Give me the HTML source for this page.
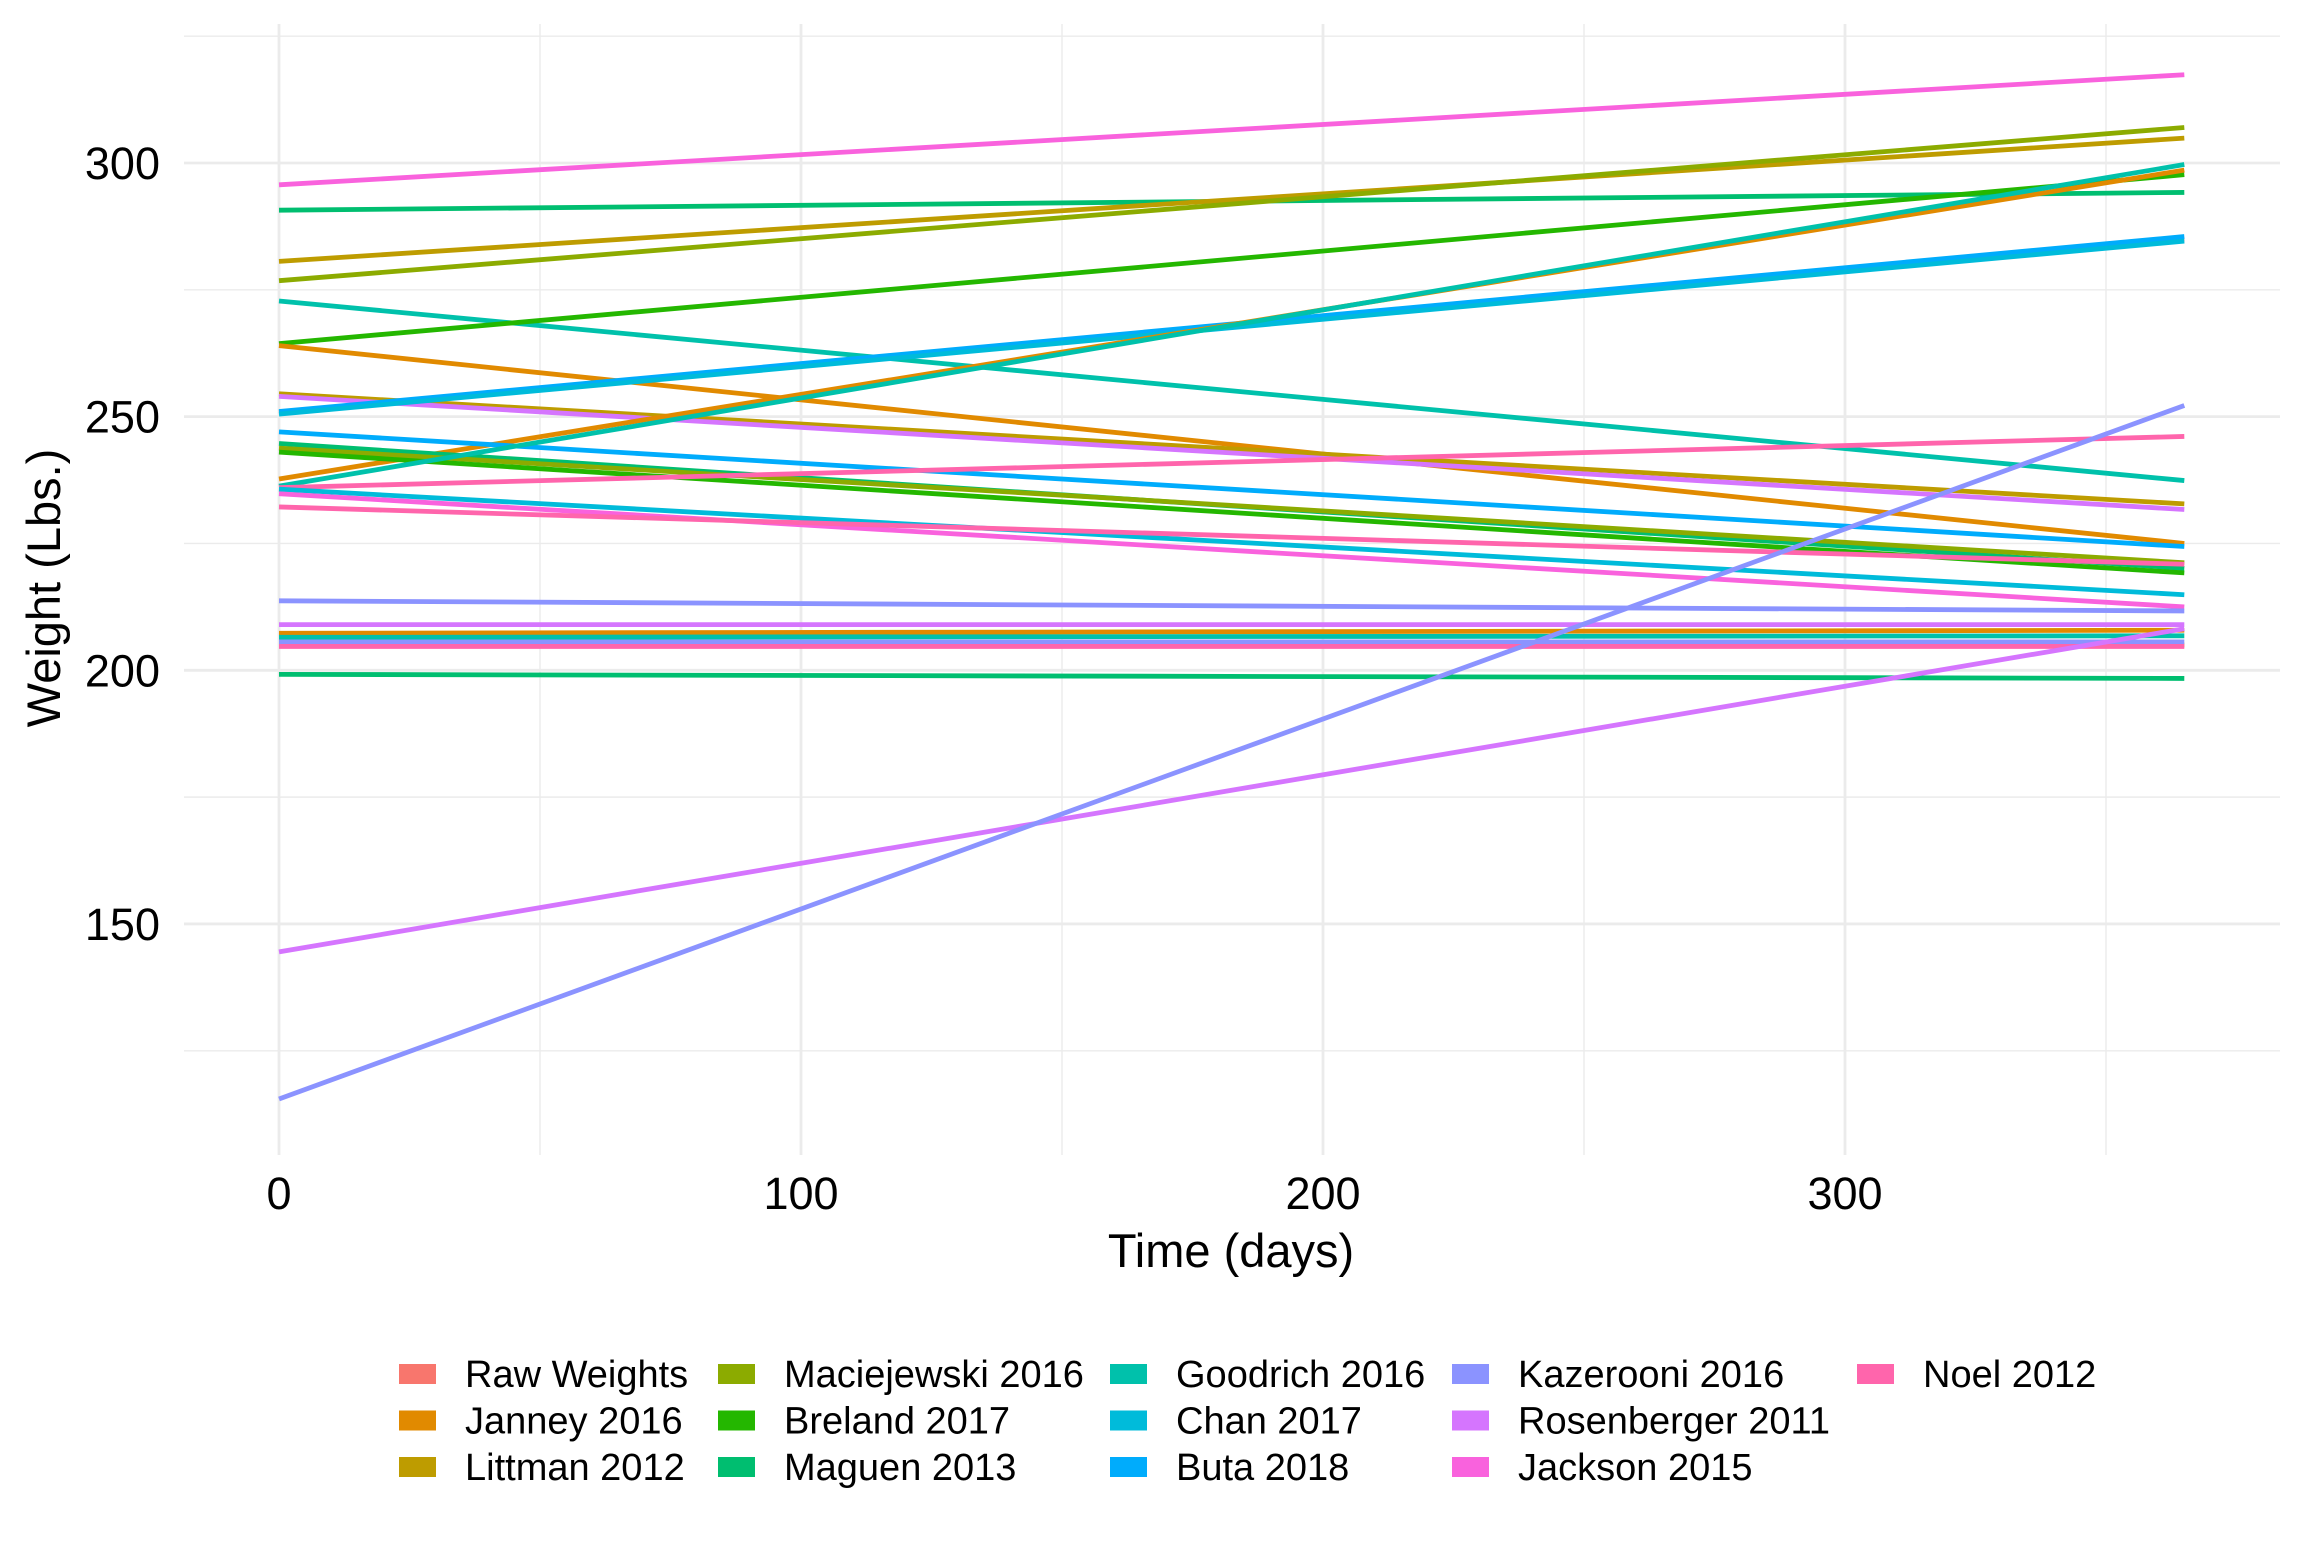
<!DOCTYPE html>
<html><head><meta charset="utf-8"><style>
html,body{margin:0;padding:0;background:#fff;}
svg text{font-family:"Liberation Sans",Arial,sans-serif;}
</style></head><body>
<svg id="chart" width="2304" height="1536" viewBox="0 0 2304 1536" xmlns="http://www.w3.org/2000/svg">
<g id="grid"></g>
<g id="lines"></g>
<g id="axes"></g>
<g id="legend"></g>
</svg>
<script>
const seriesNames = ["Raw Weights","Janney 2016","Littman 2012","Maciejewski 2016","Breland 2017","Maguen 2013","Goodrich 2016","Chan 2017","Buta 2018","Kazerooni 2016","Rosenberger 2011","Jackson 2015","Noel 2012"];
const seriesColors = ["#F8766D","#E18A00","#BE9C00","#8CAB00","#24B700","#00BE70","#00C1AB","#00BBDA","#00ACFC","#8B93FF","#D575FE","#F962DD","#FF65AC"];
// each line: [seriesIndex, weight at day 0, weight at day 365]
const lineSeries = [0,11,5,2,3,6,4,1,2,10,8,7,1,8,5,3,4,1,6,12,7,11,12,9,10,1,6,9,12,5,10,9];
const startWeights = [250.8,295.7,290.7,280.6,276.8,272.8,264.4,264.0,254.5,254.0,251.0,250.5,237.7,247.0,244.7,243.8,243.0,207.3,236.3,236.0,235.7,234.8,232.2,213.7,209.0,205.0,206.5,205.6,204.7,199.2,144.5,115.5];
const endWeights   = [285.0,317.4,294.2,304.9,307.0,237.4,297.7,225.0,232.8,231.7,285.5,284.6,298.6,224.4,220.1,221.2,219.2,207.9,299.7,246.1,214.9,212.5,220.9,211.7,209.0,205.0,206.8,205.6,204.7,198.4,208.2,252.2];
const dayRange = [0,365];
const xTicks = [0,100,200,300];
const xMinor = [50,150,250,350];
const yTicks = [150,200,250,300];
const yMinor = [125,175,225,275,325];

const NS="http://www.w3.org/2000/svg";
const PL=184, PR=2280, PT=24, PB=1155;
const x = d => 279 + d*5.22;
const y = v => 163 + (300-v)*5.073;
function mk(parent,tag,attrs){const e=document.createElementNS(NS,tag);for(const k in attrs)e.setAttribute(k,attrs[k]);parent.appendChild(e);return e;}
const grid=document.getElementById('grid'),lines=document.getElementById('lines'),axes=document.getElementById('axes'),legend=document.getElementById('legend');

yMinor.forEach(v=>{const l=mk(grid,'line',{x1:PL,x2:PR,y1:y(v),y2:y(v),stroke:'#EBEBEB','stroke-width':1.4});

});
xMinor.forEach(v=>{const l=mk(grid,'line',{x1:x(v),x2:x(v),y1:PT,y2:PB,stroke:'#EBEBEB','stroke-width':1.4});

});
yTicks.forEach(v=>{const l=mk(grid,'line',{x1:PL,x2:PR,y1:y(v),y2:y(v),stroke:'#EBEBEB','stroke-width':2.8});


const t=mk(axes,'text',{x:160,y:y(v)+16,'text-anchor':'end','font-size':45,fill:'#000'});t.textContent=v;

});
xTicks.forEach(v=>{const l=mk(grid,'line',{x1:x(v),x2:x(v),y1:PT,y2:PB,stroke:'#EBEBEB','stroke-width':2.8});


const t=mk(axes,'text',{x:x(v),y:1209,'text-anchor':'middle','font-size':45,fill:'#000'});t.textContent=v;

});

lineSeries.forEach((s,i)=>{const l=mk(lines,'line',{x1:x(dayRange[0]),y1:y(startWeights[i]),x2:x(dayRange[1]),y2:y(endWeights[i]),stroke:seriesColors[s],'stroke-width':4.8,'stroke-linecap':'butt'});

});

const xt=mk(axes,'text',{x:1231,y:1267,'text-anchor':'middle','font-size':47,fill:'#000'});xt.textContent='Time (days)';


const yt=mk(axes,'text',{x:0,y:0,'text-anchor':'middle','font-size':47,fill:'#000',transform:'translate(60,588) rotate(-90)'});yt.textContent='Weight (Lbs.)';



const colX=[465,784,1176,1518,1923];
seriesNames.forEach((n,i)=>{const c=Math.floor(i/3), r=i%3;
const g=mk(legend,'g',{});


const cy=1374+r*46.5;
mk(g,'rect',{x:colX[c]-66,y:cy-10,width:37,height:20,fill:seriesColors[i]});
const t=mk(g,'text',{x:colX[c],y:cy+13,'font-size':38,fill:'#000'});t.textContent=n;});
</script>
</body></html>
